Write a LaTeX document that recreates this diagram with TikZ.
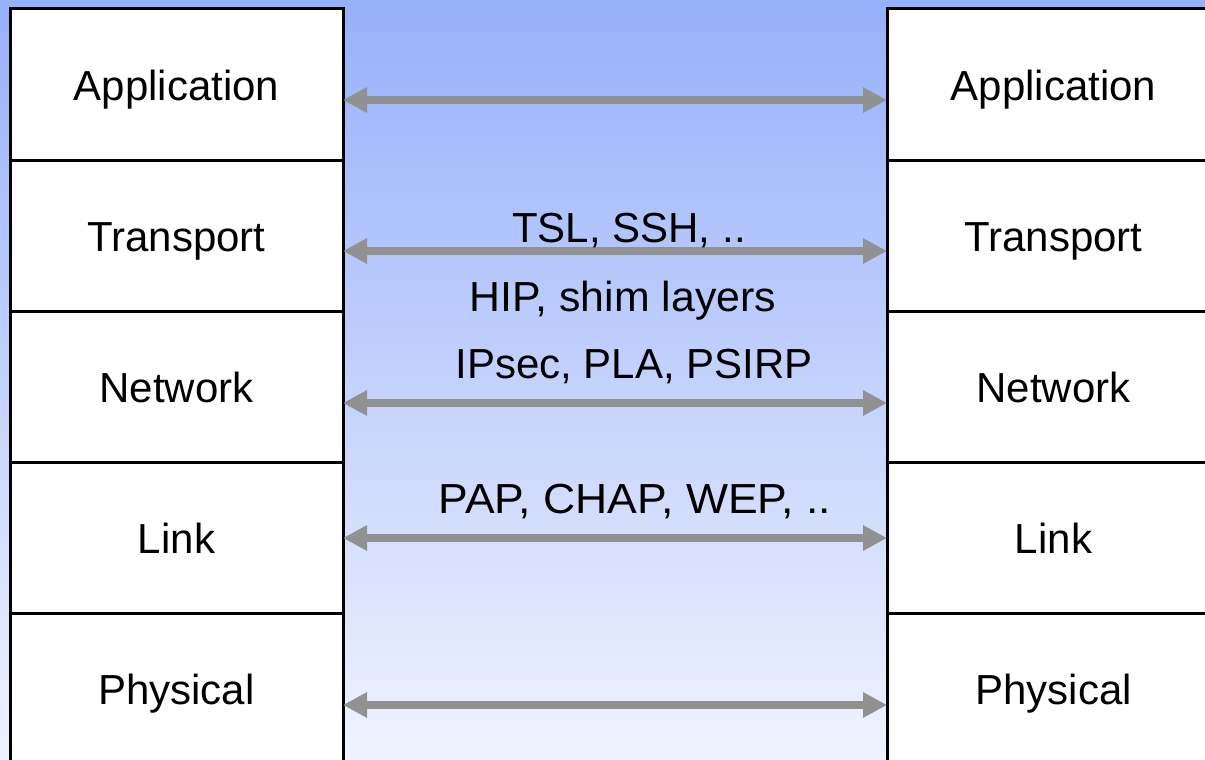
\documentclass[tikz,border=0pt]{standalone}
\usepackage{fontspec}
\setmainfont{Liberation Sans}
\usetikzlibrary{arrows.meta}
\definecolor{skytop}{RGB}{150,176,250}
\definecolor{skybottom}{RGB}{240,243,254}
\definecolor{linkgray}{RGB}{145,145,145}
\begin{document}
\begin{tikzpicture}[x=1pt,y=-1pt,
  layerbox/.style={draw=black,fill=white,line width=3pt,minimum width=333pt,
    minimum height=151pt,outer sep=0pt,inner sep=0pt,
    text height=35pt,text depth=4pt,
    font=\fontsize{42}{50}\selectfont},
  proto/.style={anchor=base,inner sep=0pt,font=\fontsize{42}{50}\selectfont},
  peer/.style={draw=linkgray,line width=8pt,
    {Triangle[length=24pt,width=24pt]}-{Triangle[length=24pt,width=24pt]}}]
  \useasboundingbox (0,0) rectangle (1205,760);
  \clip (0,0) rectangle (1205,760);
  % background
  \shade[top color=skytop,bottom color=skybottom] (0,0) rectangle (1205,760);
  % left stack
  \node[layerbox] (la) at (176.5,84.5)  {Application};
  \node[layerbox] (lt) at (176.5,235.5) {Transport};
  \node[layerbox] (ln) at (176.5,386.5) {Network};
  \node[layerbox] (ll) at (176.5,537.5) {Link};
  \node[layerbox] (lp) at (176.5,688.5) {Physical};
  % right stack
  \node[layerbox] (ra) at (1053.5,84.5)  {Application};
  \node[layerbox] (rt) at (1053.5,235.5) {Transport};
  \node[layerbox] (rn) at (1053.5,386.5) {Network};
  \node[layerbox] (rl) at (1053.5,537.5) {Link};
  \node[layerbox] (rp) at (1053.5,688.5) {Physical};
  % peer connections
  \draw[peer] ([yshift=-15.5pt]la.east) -- ([yshift=-15.5pt]ra.west);
  \draw[peer] ([yshift=-15.5pt]lt.east) -- ([yshift=-15.5pt]rt.west);
  \draw[peer] ([yshift=-16.5pt]ln.east) -- ([yshift=-16.5pt]rn.west);
  \draw[peer] ([yshift=-0.5pt]ll.east) -- ([yshift=-0.5pt]rl.west);
  \draw[peer] ([yshift=-16.5pt]lp.east) -- ([yshift=-16.5pt]rp.west);
  % protocol labels
  \node[proto] (tsl)  at (629,242) {TSL, SSH, ..};
  \node[proto,xscale=1.02] (hip)  at (623,311) {HIP, shim layers};
  \node[proto] (ipsec) at (634,378) {IPsec, PLA, PSIRP};
  \node[proto,xscale=1.06] (pap)  at (635,513) {PAP, CHAP, WEP, ..};
\end{tikzpicture}
\end{document}
